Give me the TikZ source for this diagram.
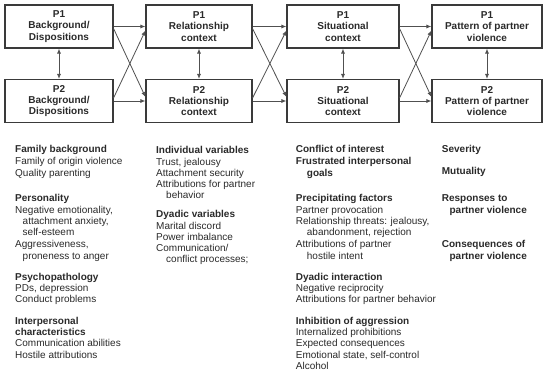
\documentclass[tikz,border=0pt]{standalone}
\usepackage{fontspec}
\setmainfont{Liberation Sans}
\usetikzlibrary{arrows.meta}
\definecolor{boxc}{HTML}{3A3A3A}
\definecolor{arrc}{HTML}{505050}
\definecolor{txtc}{HTML}{2A2A2A}
\begin{document}
\begin{tikzpicture}[x=1pt,y=-1pt,
  box/.style={draw=boxc, line width=1.1pt, minimum height=43pt, align=center, inner sep=0pt,
    font=\bfseries\fontsize{10}{11.2}\selectfont, text=txtc},
  arr/.style={draw=arrc, line width=0.8pt, -{Latex[length=5pt,width=4pt]}},
  darr/.style={draw=arrc, line width=0.8pt, {Latex[length=5pt,width=4pt]}-{Latex[length=5pt,width=4pt]}},
  tl/.style={anchor=base west, inner sep=0pt, font=\fontsize{10}{12}\selectfont, text=txtc},
  hl/.style={anchor=base west, inner sep=0pt, font=\bfseries\fontsize{10}{12}\selectfont, text=txtc}]
\fill[white] (0,0) rectangle (550,376);
\useasboundingbox (0,0) rectangle (550,376);
% boxes
\node[box, minimum width=108pt] (a1) at (59,26.5) {P1\\Background/\\Dispositions};
\node[box, minimum width=108pt] (a2) at (59,101) {P2\\Background/\\Dispositions};
\node[box, minimum width=106pt] (b1) at (199,26.5) {P1\\Relationship\\context};
\node[box, minimum width=106pt] (b2) at (199,101) {P2\\Relationship\\context};
\node[box, minimum width=112pt] (c1) at (343,26.5) {P1\\Situational\\context};
\node[box, minimum width=112pt] (c2) at (343,101) {P2\\Situational\\context};
\node[box, minimum width=110pt] (d1) at (487,26.5) {P1\\Pattern of partner\\violence};
\node[box, minimum width=110pt] (d2) at (487,101) {P2\\Pattern of partner\\violence};
% vertical double arrows
\foreach \p in {a,b,c,d} \draw[darr] (\p1.south) -- (\p2.north);
% horizontal and crossing arrows
\foreach \s/\t in {a/b,b/c,c/d}{
  \draw[arr] (\s1.east) -- (\t1.west);
  \draw[arr] (\s2.east) -- (\t2.west);
  \draw[arr] ([yshift=-2pt]\s1.east) -- ([yshift=4pt]\t2.west);
  \draw[arr] ([yshift=3pt]\s2.east) -- ([yshift=-4pt]\t1.west);
}
% column 1
\node[hl] (l1) at (15,152.9) {Family background};
\node[tl] (l2) at (15,164.6) {Family of origin violence};
\node[tl] (l3) at (15,176.3) {Quality parenting};
\node[hl] (l4) at (15,201.9) {Personality};
\node[tl] (l5) at (15,213.6) {Negative emotionality,};
\node[tl] (l6) at (22.5,224.6) {attachment anxiety,};
\node[tl] (l7) at (22.5,235.6) {self-esteem};
\node[tl] (l8) at (15,247.9) {Aggressiveness,};
\node[tl] (l9) at (22.5,259.6) {proneness to anger};
\node[hl] (l10) at (15,280.3) {Psychopathology};
\node[tl] (l11) at (15,291.6) {PDs, depression};
\node[tl] (l12) at (15,302.9) {Conduct problems};
\node[hl] (l13) at (15,324.6) {Interpersonal};
\node[hl] (l14) at (15,335.9) {characteristics};
\node[tl] (l15) at (15,346.9) {Communication abilities};
\node[tl] (l16) at (15,358.6) {Hostile attributions};
% column 2
\node[hl] (m1) at (156,153.6) {Individual variables};
\node[tl] (m2) at (156,165.3) {Trust, jealousy};
\node[tl] (m3) at (156,176.3) {Attachment security};
\node[tl] (m4) at (156,187.6) {Attributions for partner};
\node[tl] (m5) at (166,198.9) {behavior};
\node[hl] (m6) at (156,217.9) {Dyadic variables};
\node[tl] (m7) at (156,229.6) {Marital discord};
\node[tl] (m8) at (156,240.9) {Power imbalance};
\node[tl] (m9) at (156,251.9) {Communication/};
\node[tl] (m10) at (166,262.9) {conflict processes;};
% column 3
\node[hl] (n1) at (295.7,152.9) {Conflict of interest};
\node[hl] (n2) at (295.7,164.6) {Frustrated interpersonal};
\node[hl] (n3) at (306.7,176.3) {goals};
\node[hl] (n4) at (295.7,201.9) {Precipitating factors};
\node[tl] (n5) at (295.7,213.6) {Partner provocation};
\node[tl] (n6) at (295.7,224.6) {Relationship threats: jealousy,};
\node[tl] (n7) at (306.7,235.9) {abandonment, rejection};
\node[tl] (n8) at (295.7,247.6) {Attributions of partner};
\node[tl] (n9) at (306.7,259.3) {hostile intent};
\node[hl] (n10) at (295.7,280.3) {Dyadic interaction};
\node[tl] (n11) at (295.7,291.6) {Negative reciprocity};
\node[tl] (n12) at (295.7,302.9) {Attributions for partner behavior};
\node[hl] (n13) at (295.7,324.6) {Inhibition of aggression};
\node[tl] (n14) at (295.7,335.9) {Internalized prohibitions};
\node[tl] (n15) at (295.7,346.9) {Expected consequences};
\node[tl] (n16) at (295.7,358.6) {Emotional state, self-control};
\node[tl] (n17) at (295.7,369.6) {Alcohol};
% column 4
\node[hl] (o1) at (441.7,152.9) {Severity};
\node[hl] (o2) at (441.7,174.6) {Mutuality};
\node[hl] (o3) at (441.7,201.9) {Responses to};
\node[hl] (o4) at (449.4,213.6) {partner violence};
\node[hl] (o5) at (441.7,247.6) {Consequences of};
\node[hl] (o6) at (449.4,259.6) {partner violence};
\end{tikzpicture}
\end{document}
